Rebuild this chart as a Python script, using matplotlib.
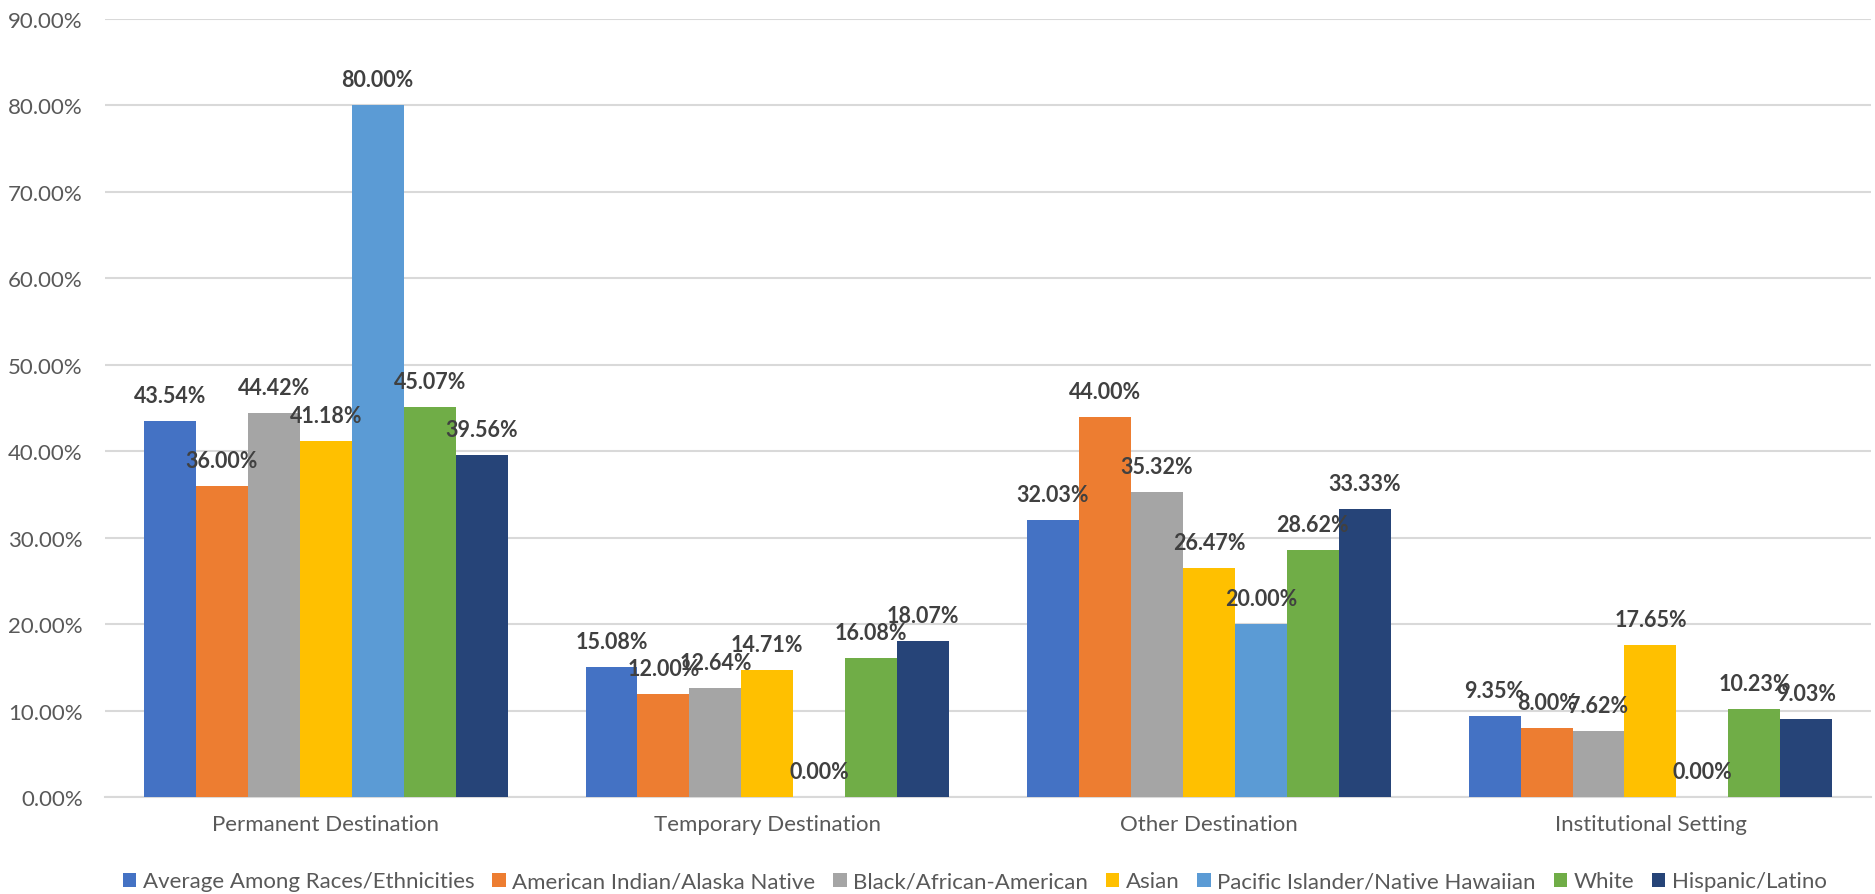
import matplotlib
matplotlib.use("Agg")
import matplotlib.pyplot as plt
import numpy as np
from matplotlib.patches import Patch

plt.rcParams['font.family'] = ['Lato', 'DejaVu Sans']

categories = ["Permanent Destination", "Temporary Destination", "Other Destination", "Institutional Setting"]
groups = ["Average Among Races/Ethnicities", "American Indian/Alaska Native", "Black/African-American",
          "Asian", "Pacific Islander/Native Hawaiian", "White", "Hispanic/Latino"]
values = [
    [43.54, 15.08, 32.03, 9.35],   # Average
    [36.00, 12.00, 44.00, 8.00],   # American Indian
    [44.42, 12.64, 35.32, 7.62],   # Black
    [41.18, 14.71, 26.47, 17.65],  # Asian
    [80.00, 0.00, 20.00, 0.00],    # Pacific Islander
    [45.07, 16.08, 28.62, 10.23],  # White
    [39.56, 18.07, 33.33, 9.03],   # Hispanic
]
colors = ["#4472C4", "#ED7D31", "#A5A5A5", "#FFC000", "#5B9BD5", "#70AD47", "#264478"]

fig = plt.figure(figsize=(18.75, 8.95), dpi=100)
ax = fig.add_axes([0.056, 0.108, 0.942, 0.87])

x = np.arange(len(categories))
n = len(groups)
w = 1 / (n + 1.5)
for i in range(n):
    pos = x + (i - (n - 1) / 2) * w
    vals = np.array(values[i]) / 100
    ax.bar(pos, vals, width=w, color=colors[i], zorder=3)
    for p, v in zip(pos, vals):
        ax.annotate(f"{v*100:.2f}%", (p, v), xytext=(0, 19), textcoords="offset pixels",
                    ha="center", va="baseline", fontsize=15.5, fontweight="bold", color="#404040", zorder=4)

ax.set_ylim(0, 0.9)
ax.set_xlim(-0.5, len(categories) - 0.5)
ax.set_yticks(np.arange(0, 0.91, 0.1))
ax.set_yticklabels([f"{t*100:.2f}%" for t in np.arange(0, 0.91, 0.1)])
ax.set_xticks(x)
ax.set_xticklabels(categories)
ax.tick_params(axis="both", length=0, labelsize=16, colors="#595959")
ax.tick_params(axis="x", pad=12)
ax.tick_params(axis="y", pad=16)
ax.grid(axis="y", color="#D9D9D9", linewidth=1.5, zorder=0)
for s in ["top", "right", "left"]:
    ax.spines[s].set_visible(False)
ax.spines["bottom"].set_color("#D9D9D9")
ax.spines["bottom"].set_linewidth(1.5)

handles = [Patch(facecolor=c) for c in colors]
fig.legend(handles, groups, loc="center", bbox_to_anchor=(0.52, 0.014), ncol=n, frameon=False,
           fontsize=16, handlelength=0.6, handleheight=0.6, handletextpad=0.3, columnspacing=0.8,
           labelcolor="#595959")

fig.savefig("out.png", dpi=100)
